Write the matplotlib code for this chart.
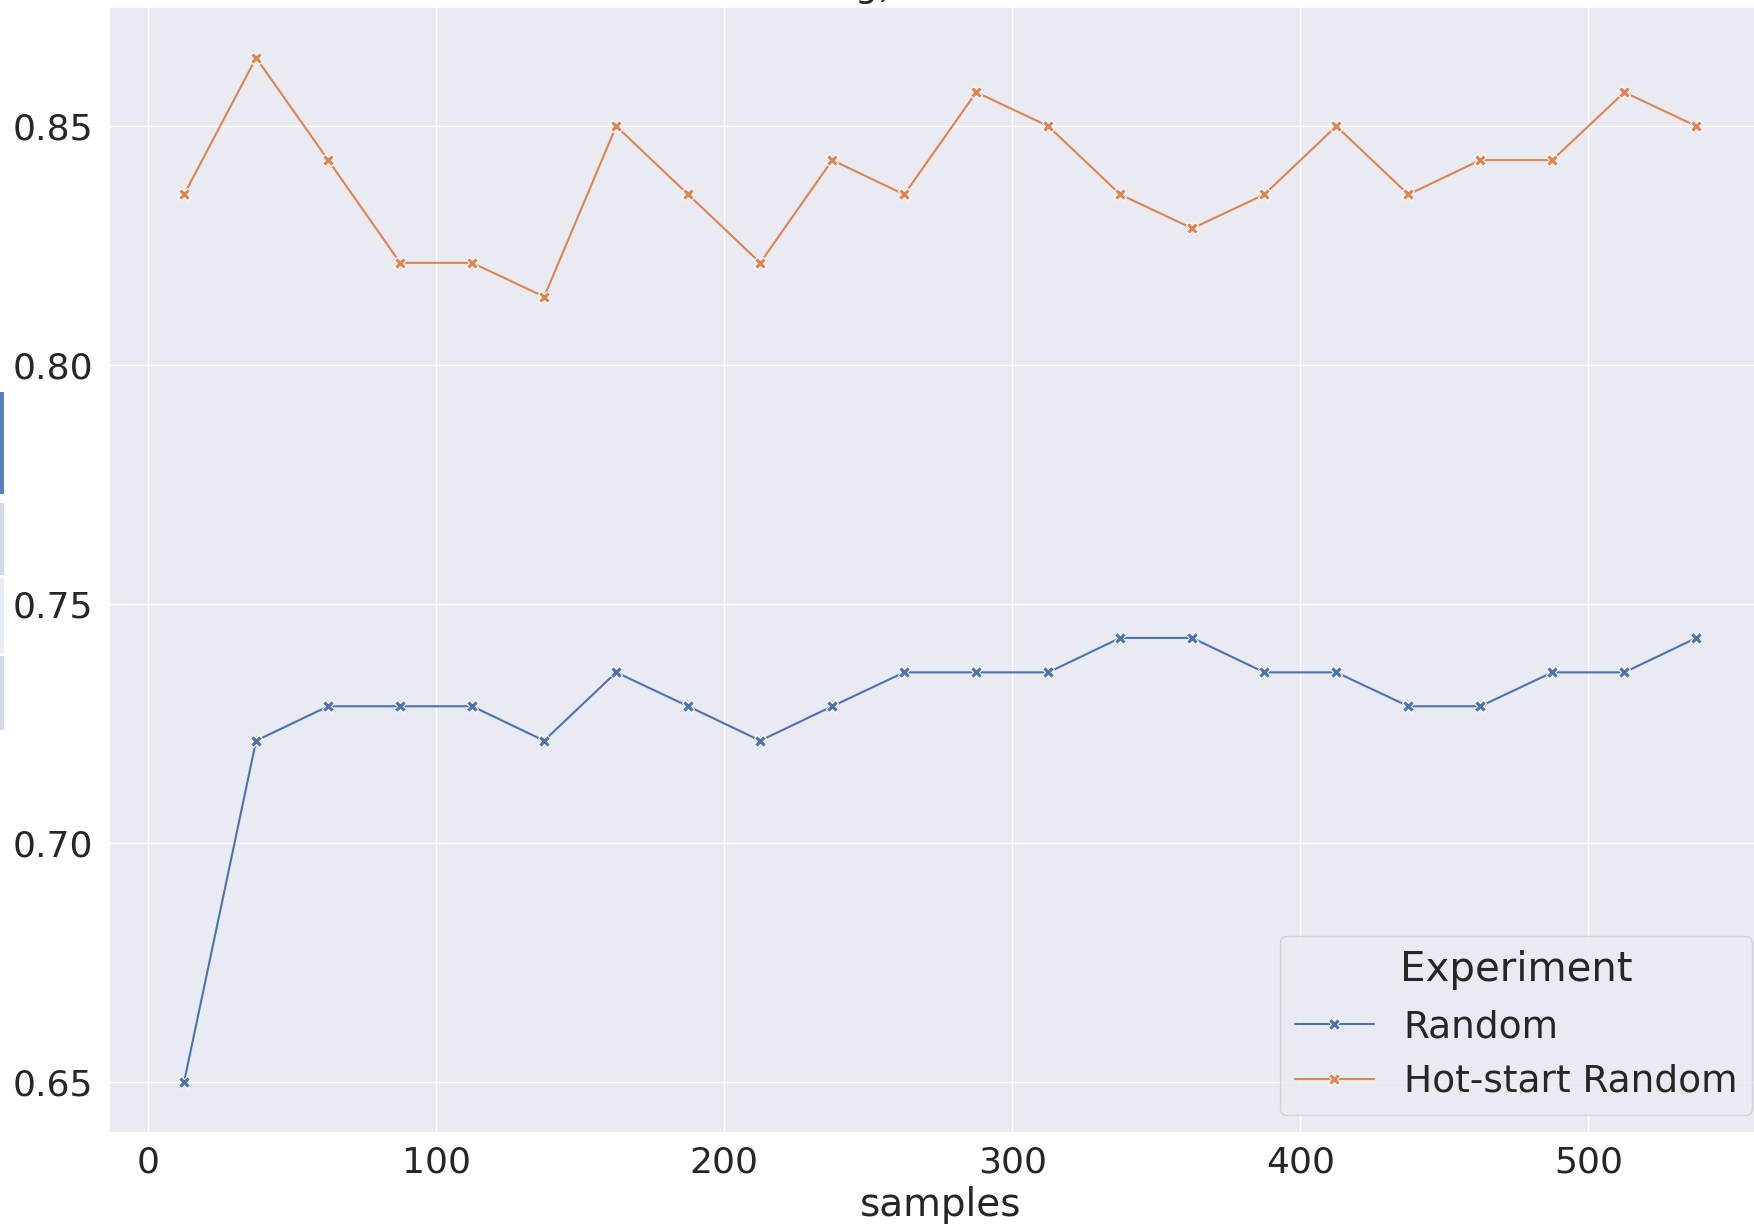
import matplotlib

matplotlib.use("Agg")
import matplotlib.pyplot as plt  # noqa: E402
import seaborn as sns  # noqa: E402
from matplotlib.patches import Rectangle  # noqa: E402

# data
samples = [12.5, 37.5, 62.5, 87.5, 112.5, 137.5, 162.5, 187.5, 212.5, 237.5, 262.5,
           287.5, 312.5, 337.5, 362.5, 387.5, 412.5, 437.5, 462.5, 487.5, 512.5, 537.5]
random_acc = [0.6500, 0.7214, 0.7286, 0.7286, 0.7286, 0.7214, 0.7357, 0.7286, 0.7214, 0.7286, 0.7357,
              0.7357, 0.7357, 0.7429, 0.7429, 0.7357, 0.7357, 0.7286, 0.7286, 0.7357, 0.7357, 0.7429]
hotstart_acc = [0.8357, 0.8643, 0.8429, 0.8214, 0.8214, 0.8143, 0.8500, 0.8357, 0.8214, 0.8429, 0.8357,
                0.8571, 0.8500, 0.8357, 0.8286, 0.8357, 0.8500, 0.8357, 0.8429, 0.8429, 0.8571, 0.8500]
series_names = ["Random", "Hot-start Random"]
y_ticks = [0.65, 0.70, 0.75, 0.80, 0.85]
x_ticks = [0, 100, 200, 300, 400, 500]

sns.set_theme(style="darkgrid")
plt.rcParams["font.family"] = ["DejaVu Sans"]

W, H = 1754, 1226
fig = plt.figure(figsize=(W / 100, H / 100), dpi=100)
# the reference is a crop: axes run past the right edge
ax = fig.add_axes([108.5 / W, 1 - 1133 / H, (1772 - 108.5) / W, (1133 - 6.7) / H])

colors = sns.color_palette("deep")[:2]
for values, name, color in zip([random_acc, hotstart_acc], series_names, colors):
    ax.plot(samples, values, color=color, lw=1.5, marker="X", markersize=9,
            markeredgecolor="white", markeredgewidth=0.8, label=name)

ax.set_xlim(-13.75, 563.75)
ax.set_ylim(0.6393, 0.8750)
ax.set_xticks(x_ticks)
ax.set_yticks(y_ticks)
ax.set_yticklabels([f"{v:.2f}" for v in y_ticks])
ax.tick_params(axis="y", labelsize=26, pad=11, length=0)
ax.tick_params(axis="x", labelsize=26, pad=9, length=0)
ax.set_xlabel("samples", fontsize=28, labelpad=5)
for lab in ax.get_xticklabels() + ax.get_yticklabels():
    lab.set_color("#262626")

leg = ax.legend(title="Experiment", loc="lower right", fontsize=27, title_fontsize=29,
                bbox_to_anchor=(1752 / W, 1 - 1115 / H), bbox_transform=fig.transFigure,
                borderaxespad=0, frameon=True, handlelength=2.1)
leg.get_frame().set_facecolor("#eaeaf2")
leg.get_frame().set_edgecolor("#cccccc")

# leftovers of the neighbouring panel at the crop's left edge, and the cut-off title
strips = [(392, 494, "#5a7dbd"), (503, 575, "#d2d9ea"), (578, 653, "#e8ecf5"), (656, 730, "#d2d9ea")]
for top, bottom, c in strips:
    fig.add_artist(Rectangle((0, 1 - bottom / H), 4 / W, (bottom - top) / H,
                             transform=fig.transFigure, color=c, lw=0))
fig.text(855 / W, 1 + 3 / H, "g)", fontsize=26, color="#262626", va="baseline", ha="left")

fig.savefig("out.png", dpi=100)
